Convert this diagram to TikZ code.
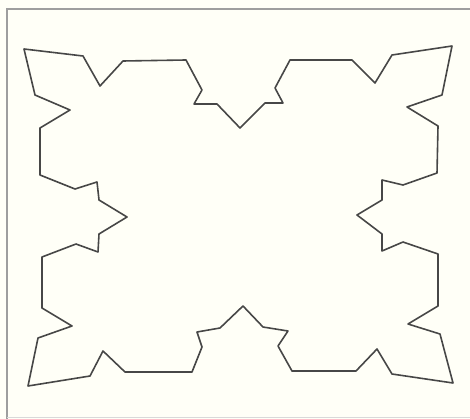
\documentclass[tikz,border=0pt]{standalone}
\begin{document}
\begin{tikzpicture}[x=1pt,y=-1pt,
  outline/.style={draw=black!72, line width=1.6pt, line join=round},
  framel/.style={draw=black!38, line width=1.5pt}]
\fill[yellow!3!white] (0,0) rectangle (470,419);
\useasboundingbox (0,0) rectangle (470,419);
\draw[framel] (7,419) -- (7,9) -- (470,9);
\draw[draw=black!15, line width=1pt] (7,417) -- (470,417);
\draw[outline]
 (24,49) -- (83,56) -- (100,86) -- (123,61) -- (186,60) -- (202,90) -- (194,104) -- (217,104)
 -- (240,128) -- (265,103) -- (283,103) -- (275,88) -- (290,60) -- (352,60) -- (375,83) -- (392,55)
 -- (452,46) -- (442,95) -- (407,107) -- (438,126) -- (437,173) -- (403,185) -- (382,180) -- (382,200)
 -- (357,215) -- (382,234) -- (382,251) -- (403,242) -- (438,254) -- (438,306) -- (408,324) -- (440,334)
 -- (453,383) -- (392,374) -- (377,349) -- (356,371) -- (292,371) -- (278,346) -- (288,331) -- (263,327)
 -- (243,306) -- (220,328) -- (197,332) -- (202,347) -- (192,372) -- (125,372) -- (103,351) -- (90,376)
 -- (28,386) -- (38,338) -- (72,326) -- (42,308) -- (42,257) -- (76,244) -- (98,252) -- (99,234)
 -- (127,217) -- (99,200) -- (97,182) -- (75,189) -- (40,175) -- (40,128) -- (70,110) -- (35,95) -- cycle;
\end{tikzpicture}
\end{document}
